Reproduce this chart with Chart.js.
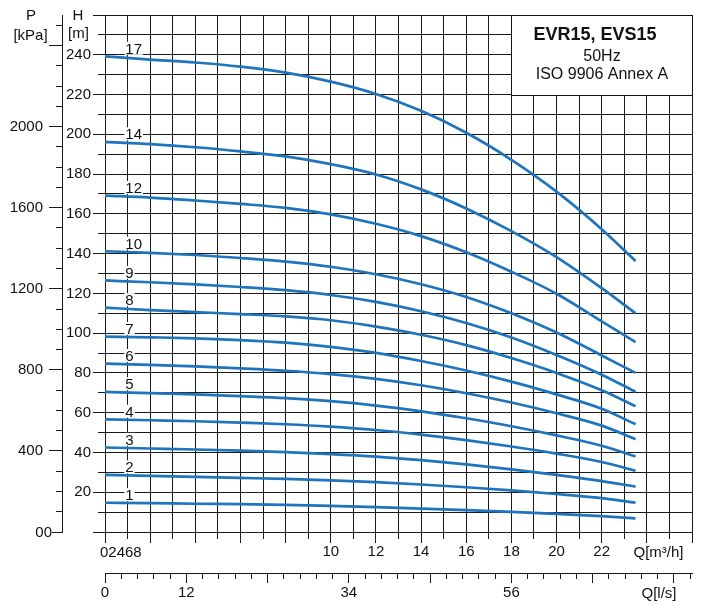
<!DOCTYPE html>
<html>
<head>
<meta charset="utf-8">
<script src="https://cdn.jsdelivr.net/npm/chart.js@4.4.1/dist/chart.umd.min.js"></script>
<style>
  body { margin: 0; background: #fff; }
  #wrap { width: 704px; height: 605px; }
</style>
</head>
<body>
<div id="wrap"><canvas id="pumpChart" width="704" height="605"></canvas></div>
<script>
// flow in m3/h, head in m, one array per number of stages
const flowRates = [0, 2, 4, 6, 8, 10, 12, 14, 16, 18, 20, 22, 23.5]
const stageNames = ['17', '14', '12', '10', '9', '8', '7', '6', '5', '4', '3', '2', '1']

const head17 = [239.2, 237.6, 236.1, 234.0, 231.0, 226.5, 220.3, 211.8, 200.8, 187.2, 171.2, 152.3, 136.3]
const head14 = [196.2, 195.1, 193.5, 191.4, 188.9, 185.0, 179.8, 172.3, 162.7, 151.3, 138.2, 122.6, 110.0]
const head12 = [169.2, 168.2, 166.7, 165.0, 163.0, 159.7, 155.0, 148.8, 140.7, 130.9, 119.8, 105.9, 95.5]
const head10 = [141.2, 140.4, 139.3, 137.8, 136.0, 133.4, 129.6, 124.6, 118.2, 110.0, 100.3, 88.8, 80.0]
const head9 = [126.5, 125.6, 124.5, 123.2, 121.6, 119.2, 115.7, 111.0, 105.1, 97.8, 89.0, 79.1, 70.5]
const head8 = [112.8, 111.6, 110.6, 109.6, 108.4, 106.5, 103.3, 99.2, 94.0, 87.5, 80.0, 71.3, 63.3]
const head7 = [98.3, 97.9, 97.4, 96.5, 95.2, 93.1, 90.1, 86.0, 81.2, 75.6, 69.2, 62.0, 54.2]
const head6 = [84.7, 84.0, 83.3, 82.3, 81.1, 79.4, 77.0, 73.8, 69.8, 65.1, 59.7, 53.5, 46.7]
const head5 = [70.5, 69.8, 69.2, 68.3, 67.3, 65.8, 63.6, 60.7, 57.2, 53.2, 48.6, 43.4, 38.0]
const head4 = [56.7, 56.2, 55.7, 55.0, 54.2, 53.0, 51.3, 49.0, 46.2, 43.0, 39.4, 35.2, 30.8]
const head3 = [42.5, 42.0, 41.5, 40.9, 40.2, 39.2, 37.9, 36.1, 34.0, 31.5, 28.7, 25.6, 22.8]
const head2 = [28.7, 28.2, 27.7, 27.2, 26.7, 26.0, 25.1, 23.9, 22.5, 20.9, 19.1, 17.0, 14.8]
const head1 = [14.7, 14.5, 14.2, 14.0, 13.6, 13.1, 12.5, 11.8, 11.0, 10.1, 9.1, 8.0, 6.9]

const heads = [head17, head14, head12, head10, head9, head8, head7, head6, head5, head4, head3, head2, head1]

// tick labels
const qTickLabels = [10, 12, 14, 16, 18, 20, 22]
const lsTickLabels = { 0: '0', 1: '12', 3: '34', 5: '56' }
const hTickLabels = [20, 40, 60, 80, 100, 120, 140, 160, 180, 200, 220, 240]
const pTickLabels = [400, 800, 1200, 1600, 2000]

const titleLines = ['EVR15, EVS15', '50Hz', 'ISO 9906 Annex A']

const FONT = '"Liberation Sans", Arial, sans-serif'
const INK = '#111'
const BLUE = '#1f74be'

Chart.defaults.font.family = FONT
Chart.defaults.font.size = 15
Chart.defaults.color = INK

const isWhole = v => Math.abs(v - Math.round(v)) < 1e-6

// show only part of a tick mark: dash pattern trick
const dashOuter = (len, show) => [show, len]            // bottom axes: drawn from border outward
const dashInner = (len, show) => [show, len - show]     // left axes: drawn from outside inward

const datasets = heads.map((h, i) => ({
  label: stageNames[i],
  data: flowRates.map((q, j) => ({ x: q, y: h[j] })),
  borderColor: BLUE,
  backgroundColor: BLUE,
  borderWidth: 2.7,
  pointRadius: 0,
  fill: false,
  cubicInterpolationMode: 'monotone',
  xAxisID: 'x',
  yAxisID: 'y'
}))

const annotate = {
  id: 'annotate',
  afterDatasetsDraw(chart) {
    const { ctx } = chart
    const x = chart.scales.x
    const y = chart.scales.y
    ctx.save()

    // stage numbers above each curve
    ctx.font = '15px ' + FONT
    ctx.textAlign = 'left'
    ctx.textBaseline = 'alphabetic'
    chart.data.datasets.forEach((ds, i) => {
      const first = chart.getDatasetMeta(i).data[0]
      const tx = x.getPixelForValue(0.9)
      const base = first.y - 2.6
      const w = ctx.measureText(ds.label).width
      ctx.fillStyle = '#fff'
      ctx.fillRect(tx - 1, base - 12, w + 2, 13)
      ctx.fillStyle = INK
      ctx.fillText(ds.label, tx, base)
    })

    // title box
    const bx1 = Math.round(x.getPixelForValue(18)) + 0.5
    const bx2 = Math.round(x.getPixelForValue(26)) + 0.5
    const by1 = Math.round(y.getPixelForValue(260)) + 0.5
    const by2 = Math.round(y.getPixelForValue(220)) + 0.5
    ctx.fillStyle = '#fff'
    ctx.fillRect(bx1, by1, bx2 - bx1, by2 - by1)
    ctx.strokeStyle = INK
    ctx.lineWidth = 1
    ctx.strokeRect(bx1, by1, bx2 - bx1, by2 - by1)
    ctx.fillStyle = INK
    ctx.textAlign = 'center'
    ctx.font = 'bold 18px ' + FONT
    ctx.fillText(titleLines[0], 595, 39.5)
    ctx.font = '16px ' + FONT
    ctx.fillText(titleLines[1], 602, 61)
    ctx.fillText(titleLines[2], 602, 78.5)

    // axis unit labels
    ctx.font = '15px ' + FONT
    ctx.textBaseline = 'middle'
    ctx.textAlign = 'center'
    ctx.fillText('P', 31, 16)
    ctx.fillText('[kPa]', 30.5, 35.5)
    ctx.fillText('H', 78, 16)
    ctx.fillText('[m]', 78.5, 33.5)
    ctx.fillText('Q[m³/h]', 658.5, 552.5)
    ctx.fillText('Q[l/s]', 659, 593.5)
    ctx.textAlign = 'left'
    ctx.fillText('02468', 100, 552.5)
    ctx.textAlign = 'right'
    ctx.fillText('00', 52, 532.5)
    ctx.restore()
  }
}

const ctx = document.getElementById('pumpChart').getContext('2d')

new Chart(ctx, {
  type: 'line',
  data: { datasets },
  options: {
    responsive: false,
    animation: false,
    layout: { padding: { top: 12, right: 12, left: 0, bottom: 0 } },
    plugins: {
      legend: { display: false },
      tooltip: { enabled: false }
    },
    scales: {
      x: {
        type: 'linear',
        position: 'bottom',
        weight: 0,
        min: 0,
        max: 26,
        afterFit: s => { s.height = 41 },
        grid: {
          color: '#1a1a1a',
          tickLength: 11,
          tickBorderDash: c => (c.tick && Math.round(c.tick.value) % 2 !== 0 ? dashOuter(11, 6) : [])
        },
        border: { display: true, color: '#1a1a1a' },
        ticks: {
          stepSize: 1,
          autoSkip: false,
          maxRotation: 0,
          padding: 0,
          callback: v => (qTickLabels.includes(v) ? String(v) : '')
        }
      },
      xl: {
        type: 'linear',
        position: 'bottom',
        weight: 1,
        min: 0,
        max: 26 / 3.6,
        afterFit: s => { s.height = 32 },
        grid: {
          drawOnChartArea: false,
          color: '#1a1a1a',
          tickLength: 10,
          tickBorderDash: c => (c.tick && !isWhole(c.tick.value) ? dashOuter(10, 5) : [])
        },
        border: { display: true, color: '#1a1a1a' },
        ticks: {
          stepSize: 0.2,
          includeBounds: false,
          autoSkip: false,
          maxRotation: 0,
          padding: 1,
          callback: v => {
            const r = Math.round(v)
            return isWhole(v) && lsTickLabels[r] !== undefined ? lsTickLabels[r] : ''
          }
        }
      },
      y: {
        type: 'linear',
        position: 'left',
        weight: 0,
        min: 0,
        max: 260,
        afterFit: s => { s.width = 43 },
        grid: {
          color: '#1a1a1a',
          tickLength: 12,
          tickBorderDash: c => (c.tick && c.tick.value % 20 !== 0 ? dashInner(12, 7) : []),
          tickBorderDashOffset: c => (c.tick && c.tick.value % 20 !== 0 ? 7 : 0)
        },
        border: { display: true, color: '#1a1a1a' },
        ticks: {
          stepSize: 10,
          autoSkip: false,
          padding: 2,
          callback: v => (hTickLabels.includes(v) ? String(v) : '')
        }
      },
      yP: {
        type: 'linear',
        position: 'left',
        weight: 1,
        min: 0,
        max: 260 * 9.81,
        afterFit: s => { s.width = 62 },
        grid: {
          drawOnChartArea: false,
          color: '#1a1a1a',
          tickLength: 13,
          tickBorderDash: c => {
            if (!c.tick) return []
            const v = c.tick.value
            if (v === 0) return dashInner(13, 10)
            return v % 400 === 0 ? [] : dashInner(13, 6)
          },
          tickBorderDashOffset: c => {
            if (!c.tick) return 0
            const v = c.tick.value
            if (v === 0) return 10
            return v % 400 === 0 ? 0 : 6
          }
        },
        border: { display: true, color: '#1a1a1a' },
        ticks: {
          stepSize: 100,
          includeBounds: false,
          autoSkip: false,
          padding: 6,
          callback: v => (pTickLabels.includes(v) ? String(v) : '')
        }
      }
    }
  },
  plugins: [annotate]
})
</script>
</body>
</html>
